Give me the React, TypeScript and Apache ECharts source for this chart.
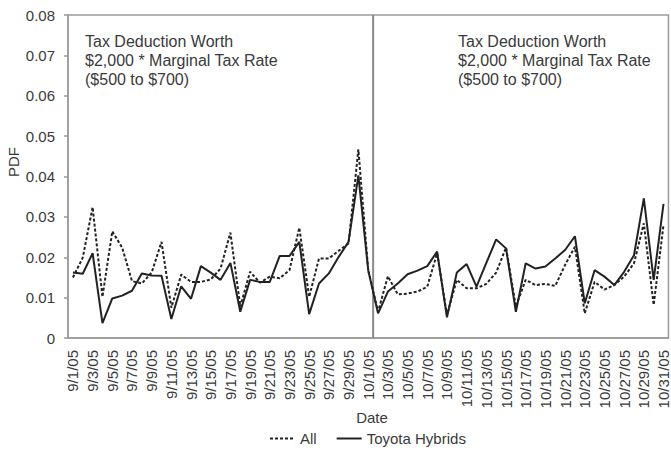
import { useEffect, useRef } from "react";
import * as echarts from "echarts";

// Daily categories, 9/1/05 through 10/31/05
const septemberDays = 30;
const octoberDays = 31;
const dates: string[] = [
  ...Array.from({ length: septemberDays }, (_, i) => `9/${i + 1}/05`),
  ...Array.from({ length: octoberDays }, (_, i) => `10/${i + 1}/05`),
];

// Daily probability density of purchases
const allVehicles = [
  0.015, 0.0199, 0.0324, 0.0102, 0.0264, 0.0224, 0.0141, 0.0135, 0.0162, 0.0238,
  0.0075, 0.0157, 0.0139, 0.0139, 0.0145, 0.0172, 0.0261, 0.0078, 0.0164, 0.0137,
  0.0152, 0.0148, 0.0168, 0.0273, 0.0102, 0.0197, 0.0197, 0.0216, 0.0234, 0.0467,
  0.0168, 0.0065, 0.0153, 0.0108, 0.011, 0.0115, 0.0127, 0.021, 0.0057, 0.0144,
  0.0123, 0.0123, 0.0134, 0.0162, 0.0224, 0.0078, 0.0144, 0.0131, 0.0134, 0.0129,
  0.0181, 0.0226, 0.0061, 0.0139, 0.012, 0.0131, 0.0152, 0.0185, 0.0284, 0.0082,
  0.028,
];
const toyotaHybrids = [
  0.0162, 0.0159, 0.021, 0.0037, 0.0098, 0.0105, 0.0117, 0.016, 0.0155, 0.0154,
  0.0047, 0.0128, 0.0097, 0.0178, 0.0162, 0.0144, 0.0186, 0.0065, 0.0144, 0.0139,
  0.0139, 0.0203, 0.0203, 0.0238, 0.0059, 0.0135, 0.016, 0.0201, 0.0238, 0.0403,
  0.0168, 0.0061, 0.0115, 0.0135, 0.0158, 0.0167, 0.0178, 0.0214, 0.0051, 0.0162,
  0.0183, 0.0127, 0.0186, 0.0244, 0.0222, 0.0065, 0.0185, 0.0172, 0.0177, 0.0197,
  0.0218, 0.0252, 0.0086, 0.0168, 0.0152, 0.0131, 0.0164, 0.0205, 0.0346, 0.0144,
  0.0332,
];

const seriesNames = ["All", "Toyota Hybrids"];
const yMax = 0.08;
const yStep = 0.01;
// Band boundary (in day units) where the second regime starts
const periodBoundary = 31;
const annotationLines = [
  "Tax Deduction Worth",
  "$2,000 * Marginal Tax Rate",
  "($500 to $700)",
];

const FONT = "'Liberation Sans', Arial, sans-serif";
const AXIS_GRAY = "#9a9a9a";
const TEXT = "#3a3a3a";
const INK = "#222222";

// Legend keys: a dashed stroke and a solid stroke, drawn as filled bars
const DASHED_KEY =
  "path://M0 0h3v2h-3zM5 0h3v2h-3zM10 0h3v2h-3zM15 0h3v2h-3zM20 0h3v2h-3zM25 0h0v2h0z";
const SOLID_KEY = "path://M0 0h25v2h-25z";

export default function App() {
  const ref = useRef<HTMLDivElement>(null);

  useEffect(() => {
    document.body.style.margin = "0";
    if (!ref.current) return;
    const chart = echarts.init(ref.current, undefined, { renderer: "svg" });

    const annotation = (x: number) => ({
      type: "text",
      left: x,
      top: 32,
      style: {
        text: annotationLines.join("\n"),
        fontFamily: FONT,
        fontSize: 16,
        lineHeight: 19,
        fill: TEXT,
      },
    });

    chart.setOption({
      animation: false,
      backgroundColor: "#ffffff",
      textStyle: { fontFamily: FONT },
      grid: {
        left: 68,
        top: 15,
        right: 1,
        bottom: 112,
        show: true,
        borderColor: AXIS_GRAY,
        borderWidth: 1.5,
      },
      legend: {
        data: [
          { name: seriesNames[0], icon: DASHED_KEY },
          { name: seriesNames[1], icon: SOLID_KEY },
        ],
        left: 265,
        top: 426,
        itemWidth: 25,
        itemHeight: 2,
        itemGap: 20,
        textStyle: { fontFamily: FONT, fontSize: 15, color: TEXT },
      },
      xAxis: [
        {
          type: "category",
          data: dates,
          boundaryGap: true,
          axisLine: { lineStyle: { color: AXIS_GRAY, width: 1.5 } },
          axisTick: {
            interval: 1,
            length: 4,
            lineStyle: { color: AXIS_GRAY, width: 1.5 },
          },
          axisLabel: {
            interval: 1,
            rotate: 90,
            margin: 12,
            fontFamily: FONT,
            fontSize: 15,
            color: TEXT,
          },
          splitLine: { show: false },
        },
        {
          type: "value",
          min: 0,
          max: dates.length,
          show: false,
        },
      ],
      yAxis: {
        type: "value",
        min: 0,
        max: yMax,
        interval: yStep,
        axisLine: { show: true, lineStyle: { color: AXIS_GRAY, width: 1.5 } },
        axisTick: {
          show: true,
          length: 4,
          lineStyle: { color: AXIS_GRAY, width: 1.5 },
        },
        axisLabel: {
          margin: 13,
          fontFamily: FONT,
          fontSize: 15,
          color: TEXT,
          formatter: (v: number) => (v === 0 ? "0" : v.toFixed(2)),
        },
        splitLine: { show: false },
      },
      series: [
        {
          name: seriesNames[0],
          type: "line",
          data: allVehicles,
          symbol: "none",
          lineStyle: { color: INK, width: 2, type: [3, 2] },
          itemStyle: { color: INK },
          z: 3,
        },
        {
          name: seriesNames[1],
          type: "line",
          data: toyotaHybrids,
          symbol: "none",
          lineStyle: { color: INK, width: 2 },
          itemStyle: { color: INK },
          z: 4,
        },
        {
          name: "boundary",
          type: "line",
          xAxisIndex: 1,
          data: [
            [periodBoundary, 0],
            [periodBoundary, yMax],
          ],
          symbol: "none",
          silent: true,
          lineStyle: { color: "#8a8a8a", width: 2 },
          z: 2,
        },
      ],
      graphic: [
        annotation(85),
        annotation(458),
        {
          type: "text",
          x: 13,
          y: 162,
          rotation: Math.PI / 2,
          style: {
            text: "PDF",
            fontFamily: FONT,
            fontSize: 15,
            fill: TEXT,
            align: "center",
            verticalAlign: "middle",
          },
        },
        {
          type: "text",
          x: 372,
          y: 417,
          style: {
            text: "Date",
            fontFamily: FONT,
            fontSize: 15,
            fill: TEXT,
            align: "center",
            verticalAlign: "middle",
          },
        },
      ],
    });

    return () => chart.dispose();
  }, []);

  return <div ref={ref} style={{ width: 671, height: 450 }} />;
}
